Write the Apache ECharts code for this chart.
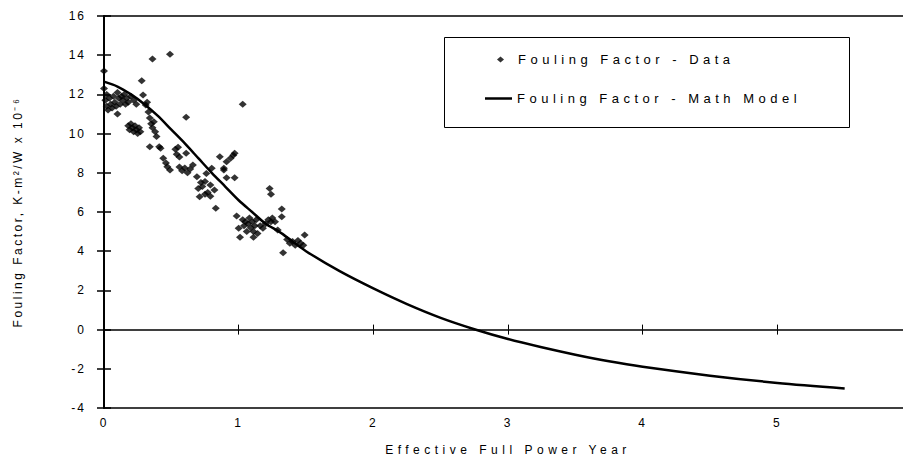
<!DOCTYPE html>
<html><head><meta charset="utf-8">
<script src="https://cdn.jsdelivr.net/npm/echarts@6/dist/echarts.min.js"></script>
<style>html,body{margin:0;padding:0;background:#fff}#chart{width:903px;height:469px}</style>
</head><body><div id="chart"></div>
<script>
// ---- data ----
const xTickValues = [0, 1, 2, 3, 4, 5, 6];
const yTickValues = [-4, -2, 0, 2, 4, 6, 8, 10, 12, 14, 16];
const seriesNames = ['Fouling Factor - Data', 'Fouling Factor - Math Model'];
const xTitle = 'Effective Full Power Year';
const yTitle = 'Fouling Factor, K-m²/W x 10⁻⁶';

const dataX = [0.00,0.00,0.01,0.02,0.02,0.03,0.04,0.05,0.06,0.07,0.08,0.09,0.10,0.10,0.11,0.12,0.13,0.14,0.15,0.16,0.17,0.18,0.20,0.22,0.24,
  0.28,0.29,0.31,0.32,0.36,0.49,0.61,1.03,
  0.18,0.19,0.20,0.21,0.22,0.23,0.24,0.25,0.26,0.27,
  0.33,0.34,0.35,0.36,0.37,0.38,0.39,0.34,0.41,0.42,0.44,0.46,0.47,0.49,
  0.53,0.54,0.55,0.56,0.61,0.56,0.58,0.60,0.62,0.64,0.66,
  0.69,0.70,0.71,0.72,0.73,0.75,0.77,0.79,0.75,0.79,0.82,0.83,
  0.76,0.80,0.86,0.89,0.89,0.91,0.94,0.96,0.97,0.91,0.97,
  0.985,1.00,1.01,1.11,1.03,1.04,1.05,1.06,1.07,1.08,1.09,1.10,1.11,1.12,1.13,1.14,
  1.16,1.18,1.20,1.22,1.23,1.24,1.24,1.25,1.27,1.29,1.32,1.32,1.33,
  1.36,1.38,1.40,1.42,1.44,1.46,1.48,1.49];
const dataY = [13.2,12.3,11.7,11.4,12.0,11.2,11.8,11.5,11.3,11.9,11.6,11.4,12.1,11.0,11.8,11.5,11.9,11.7,12.0,11.5,11.8,11.6,11.9,11.7,11.5,
  12.7,11.97,11.46,11.6,13.8,14.05,10.83,11.5,
  10.4,10.2,10.5,10.3,10.1,10.4,10.2,10.0,10.3,10.1,
  11.1,10.8,10.5,10.3,10.6,10.1,9.85,9.33,9.33,9.25,8.74,8.5,8.31,8.14,
  9.2,8.95,9.3,8.8,9.0,8.3,8.1,8.25,8.0,8.2,8.4,
  7.8,7.2,6.78,7.5,7.3,6.9,7.0,6.8,7.55,7.38,7.12,6.19,
  7.97,8.23,8.82,8.23,8.14,8.57,8.74,8.9,9.0,7.75,7.75,
  5.8,5.17,4.71,4.71,5.6,5.3,5.5,5.0,5.4,5.7,5.2,5.5,5.0,5.3,5.6,4.9,
  5.3,5.17,5.4,5.6,7.2,6.9,5.5,5.7,5.5,5.08,6.15,5.76,3.92,
  4.6,4.4,4.5,4.3,4.55,4.4,4.3,4.83];

const modelX = [0,0.1,0.2,0.3,0.4,0.5,0.6,0.7,0.8,0.9,1.0,1.1,1.2,1.3,1.4,1.5,1.75,2.0,2.25,2.5,2.75,3.0,3.25,3.5,3.75,4.0,4.5,5.0,5.5];
const modelY = [12.65,12.4,12.0,11.5,10.9,10.2,9.5,8.75,8.0,7.3,6.6,6.0,5.4,5.0,4.5,4.0,2.98,2.1,1.3,0.6,0.02,-0.48,-0.9,-1.28,-1.62,-1.9,-2.35,-2.72,-3.0];

// ---- chart ----
const FONT = '"Liberation Sans", Arial, sans-serif';
const chart = echarts.init(document.getElementById('chart'), null, {renderer: 'svg'});
const scatterData = dataX.map((x, i) => [x, dataY[i]]);
const lineData = modelX.map((x, i) => [x, modelY[i]]);

const xBase = {type: 'value', min: xTickValues[0], max: xTickValues[xTickValues.length - 1], interval: 1, splitLine: {show: false}};
const yBase = {type: 'value', min: yTickValues[0], max: yTickValues[yTickValues.length - 1], interval: 2, splitLine: {show: false}};
const legendText = {color: '#000', fontSize: 13, fontFamily: FONT};

chart.setOption({
  animation: false,
  backgroundColor: '#fff',
  grid: {left: 104, right: -9, top: 16, bottom: 61, show: true, borderColor: '#000', borderWidth: 1.5, backgroundColor: 'transparent', containLabel: false, outerBoundsMode: 'none'},
  xAxis: [
    Object.assign({}, xBase, {
      position: 'bottom',
      axisLine: {show: true, lineStyle: {color: '#000', width: 1.5}},
      axisTick: {show: true, inside: false, length: 5, lineStyle: {color: '#000', width: 1}},
      axisLabel: {show: true, color: '#000', fontSize: 12, fontFamily: FONT, margin: 9},
      name: xTitle, nameLocation: 'middle', nameGap: 36,
      nameTextStyle: {color: '#000', fontSize: 12, fontFamily: FONT}
    }),
    Object.assign({}, xBase, {
      position: 'bottom', offset: 0,
      axisLine: {show: false}, axisLabel: {show: false},
      axisTick: {show: true, inside: true, length: 5, lineStyle: {color: '#000', width: 1}}
    })
  ],
  yAxis: [
    Object.assign({}, yBase, {
      position: 'left',
      axisLine: {show: true, lineStyle: {color: '#000', width: 2}},
      axisTick: {show: true, inside: false, length: 7, lineStyle: {color: '#000', width: 1.5}},
      axisLabel: {show: true, color: '#000', fontSize: 12, fontFamily: FONT, margin: 18},
      name: yTitle, nameLocation: 'middle', nameRotate: 90, nameGap: 80,
      nameTextStyle: {color: '#000', fontSize: 12, fontFamily: FONT}
    }),
    Object.assign({}, yBase, {
      position: 'left', offset: 0,
      axisLine: {show: false}, axisLabel: {show: false},
      axisTick: {show: true, inside: true, length: 7, lineStyle: {color: '#000', width: 1.5}}
    })
  ],
  legend: [
    {
      left: 492, top: 48, orient: 'vertical', itemWidth: 7, itemHeight: 6,
      selectedMode: false,
      textStyle: Object.assign({padding: [0, 0, 0, 9]}, legendText),
      data: [{name: seriesNames[0], icon: 'diamond', itemStyle: {color: '#000'}}]
    },
    {
      left: 480, top: 87, orient: 'vertical', itemWidth: 27, itemHeight: 2.5,
      selectedMode: false,
      textStyle: legendText,
      data: [{name: seriesNames[1], icon: 'rect', itemStyle: {color: '#000'}}]
    }
  ],
  graphic: [{
    type: 'rect', left: 442, top: 35, z: 100, silent: true,
    shape: {width: 405, height: 90},
    style: {fill: 'none', stroke: '#000', lineWidth: 1}
  }],
  series: [
    {
      name: seriesNames[0], type: 'scatter', xAxisIndex: 0, yAxisIndex: 0,
      symbol: 'diamond', symbolSize: [8, 7],
      itemStyle: {color: '#000'},
      data: scatterData
    },
    {
      name: seriesNames[1], type: 'line', xAxisIndex: 0, yAxisIndex: 0,
      showSymbol: false, symbol: 'none', smooth: 0.3,
      lineStyle: {color: '#000', width: 2.5},
      itemStyle: {color: '#000'},
      data: lineData
    }
  ]
});

function spaceText() {
  document.querySelectorAll('#chart svg text').forEach(t => {
    const s = t.textContent;
    let ls = null;
    if (s.indexOf('Fouling Factor -') === 0) ls = '4.5px';
    else if (s.indexOf('Effective') === 0) ls = '4.5px';
    else if (s.indexOf('Fouling Factor,') === 0) ls = '2.5px';
    else if (/^-?\d+$/.test(s)) ls = '2px';
    if (ls) t.style.letterSpacing = ls;
  });
}
chart.on('finished', spaceText);
spaceText();
setTimeout(spaceText, 50);
</script>
</body></html>
